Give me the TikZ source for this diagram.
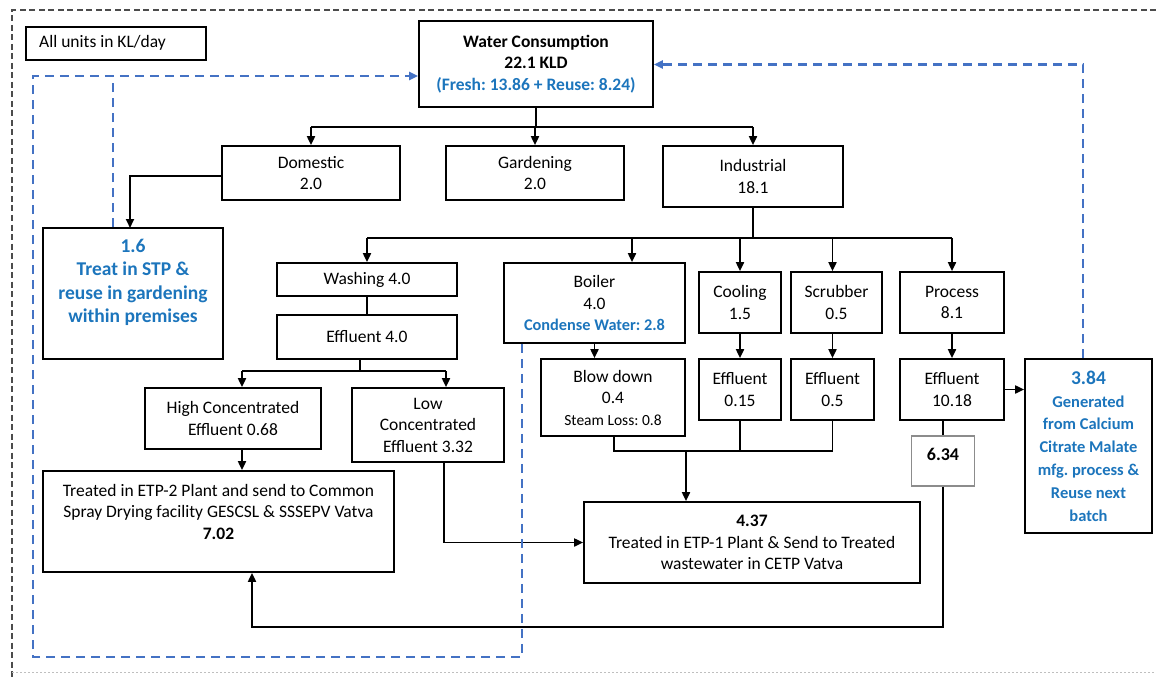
\documentclass[tikz,border=0pt]{standalone}
\usepackage{fontspec}
\setmainfont{Carlito}
\usetikzlibrary{arrows.meta}
\definecolor{txtblue}{RGB}{28,117,188}
\definecolor{dashblue}{RGB}{68,114,196}
\frenchspacing
\begin{document}
\begin{tikzpicture}[x=1pt,y=-1pt,
  box/.style={draw=black, line width=1.7pt, inner sep=0pt, align=center,
    font=\fontsize{17.5}{21.5}\selectfont},
  txt/.style={inner sep=0pt, align=center, font=\fontsize{17.5}{21.5}\selectfont},
  conn/.style={draw=black, line width=1.8pt},
  arr/.style={conn, -{Triangle[length=9pt,width=8pt]}},
  reuse/.style={draw=dashblue, line width=2.5pt, dash pattern=on 9pt off 6pt},
  reusearr/.style={reuse, -{Triangle[length=9pt,width=8pt]}},
  outer/.style={draw=black!70, line width=1.1pt, dash pattern=on 6pt off 3.5pt}
]
\useasboundingbox (0,0) rectangle (1156,679);
\draw[outer] (1156,10) -- (12,10) -- (12,679);
\draw[black!25, line width=0.8pt, dash pattern=on 2pt off 2pt] (12,672) -- (1156,672);

% helper coordinates
\coordinate (b1) at (536,127);
\coordinate (b2) at (753,238);
\coordinate (b3) at (0,371);
\coordinate (yc) at (0,451);
\coordinate (yb) at (0,627);
\coordinate (yr) at (0,64.5);
\coordinate (yl) at (0,76);
\coordinate (ybot) at (0,657);
\coordinate (stpin) at (130,228);
\coordinate (xeff4) at (360,0);
\coordinate (xhc) at (242,0);
\coordinate (xlcin) at (446,0);
\coordinate (xlc) at (444,0);
\coordinate (xboil) at (632,0);
\coordinate (xbd) at (614,0);
\coordinate (xetp1) at (686,0);
\coordinate (xret) at (252,0);
\coordinate (xr) at (1083,0);
\coordinate (xbl) at (522,0);
\coordinate (xl) at (33,0);
\coordinate (xs) at (113,0);

% boxes
\node[box, minimum width=180pt, minimum height=33pt] (units) at (116,43.5) {};
\node[txt, anchor=west] (unitst) at (39,43) {All units in KL/day};

\node[box, minimum width=234pt, minimum height=86pt, font=\fontsize{17.5}{21.5}\selectfont\bfseries] (wc) at (536,64)
  {Water Consumption\\22.1 KLD\\\textcolor{txtblue}{(Fresh: 13.86 + Reuse: 8.24)}};

\node[box, minimum width=178pt, minimum height=54pt] (dom) at (311,173) {Domestic\\2.0};
\node[box, minimum width=178pt, minimum height=54pt] (gard) at (535,173) {Gardening\\2.0};
\node[box, minimum width=180pt, minimum height=61pt] (ind) at (753,176.5) {Industrial\\18.1};

\node[box, minimum width=180pt, minimum height=131pt] (stp) at (133,293.5) {};
\node[txt, text=txtblue, font=\fontsize{19.5}{23.5}\selectfont\bfseries] (stpt) at (133,282.5)
  {1.6\\Treat in STP \&\\reuse in gardening\\within premises};

\node[box, minimum width=180pt, minimum height=33pt] (wash) at (367,279.5) {Washing 4.0};
\node[box, minimum width=180pt, minimum height=44pt] (eff4) at (367,337) {Effluent 4.0};
\node[box, minimum width=176pt, minimum height=61pt] (hc) at (233,418.5) {High Concentrated\\Effluent 0.68};
\node[box, minimum width=152pt, minimum height=74pt] (lc) at (428,425) {Low\\Concentrated\\Effluent 3.32};

\node[box, minimum width=351pt, minimum height=101pt] (etp2) at (218.5,521.5) {};
\node[txt] (etp2t) at (218.5,511.5)
  {Treated in ETP-2 Plant and send to Common\\Spray Drying facility GESCSL \& SSSEPV Vatva\\\textbf{7.02}};

\node[box, minimum width=181pt, minimum height=80pt] (boil) at (594.5,303)
  {Boiler\\4.0\\{\color{txtblue}\bfseries\fontsize{16.3}{21.5}\selectfont Condense Water: 2.8}};
\node[box, minimum width=144pt, minimum height=77pt] (bd) at (613,397.5)
  {Blow down\\0.4\\{\fontsize{15.5}{21.5}\selectfont Steam Loss: 0.8}};

\node[box, minimum width=82pt, minimum height=61pt] (cool) at (740,302.5) {Cooling\\1.5};
\node[box, minimum width=82pt, minimum height=61pt] (e015) at (740,389.5) {Effluent\\0.15};
\node[box, minimum width=91pt, minimum height=61pt] (scrub) at (836.5,302.5) {Scrubber\\0.5};
\node[box, minimum width=83pt, minimum height=61pt] (e05) at (832.5,389.5) {Effluent\\0.5};
\node[box, minimum width=104pt, minimum height=61pt] (proc) at (952,302.5) {Process\\8.1};
\node[box, minimum width=104pt, minimum height=61pt] (e1018) at (952,389.5) {Effluent\\10.18};

\node[box, minimum width=127pt, minimum height=174pt, text=txtblue,
  font=\fontsize{16.5}{22.8}\selectfont\bfseries] (s384) at (1088.5,446)
  {{\fontsize{19.5}{22.8}\selectfont 3.84}\\Generated\\from Calcium\\Citrate Malate\\mfg. process \&\\Reuse next\\batch};

\node[box, draw=black!45, line width=1.3pt, minimum width=63pt, minimum height=50pt] (s634) at (943,461) {};
\node[txt, font=\fontsize{18}{21.5}\selectfont\bfseries] (s634t) at (943,454) {6.34};

\node[box, minimum width=336pt, minimum height=81pt] (etp1) at (752,542.5)
  {\textbf{4.37}\\Treated in ETP-1 Plant \& Send to Treated\\wastewater in CETP Vatva};

% top-level distribution
\draw[conn] (wc.south) -- (b1);
\draw[conn] (dom.north |- b1) -- (ind.north |- b1);
\draw[arr] (dom.north |- b1) -- (dom.north);
\draw[arr] (gard.north |- b1) -- (gard.north);
\draw[arr] (ind.north |- b1) -- (ind.north);
\draw[arr] ([yshift=-3pt]dom.west) -| (stpin);

% industrial distribution
\draw[conn] (ind.south) -- (b2);
\draw[conn] (wash.north |- b2) -- (proc.north |- b2);
\draw[arr] (wash.north |- b2) -- (wash.north);
\draw[arr] (xboil |- b2) -- (xboil |- boil.north);
\draw[arr] (cool.north |- b2) -- (cool.north);
\draw[arr] (e05.north |- b2) -- (e05.north |- scrub.north);
\draw[arr] (proc.north |- b2) -- (proc.north);

% washing branch
\draw[conn] (wash.south) -- (eff4.north);
\draw[conn] (xeff4 |- eff4.south) -- (xeff4 |- b3);
\draw[conn] (xhc |- b3) -- (xlcin |- b3);
\draw[arr] (xhc |- b3) -- (xhc |- hc.north);
\draw[arr] (xlcin |- b3) -- (xlcin |- lc.north);
\draw[arr] (xhc |- hc.south) -- (xhc |- etp2.north);
\draw[arr] (xlc |- lc.south) |- (etp1.west);

% boiler, cooling, scrubber, process
\draw[arr] (boil.south) -- (boil.south |- bd.north);
\draw[arr] (cool.south) -- (e015.north);
\draw[arr] (e05.north |- scrub.south) -- (e05.north);
\draw[arr] (proc.south) -- (e1018.north);
\draw[arr] (e1018.east) -- (e1018.east -| s384.west);

% collector to ETP-1
\draw[conn] (xbd |- bd.south) -- (xbd |- yc) -- (e05.south |- yc) -- (e05.south);
\draw[conn] (e015.south) -- (e015.south |- yc);
\draw[arr] (xetp1 |- yc) -- (xetp1 |- etp1.north);

% process effluent split to ETP-2
\draw[conn] (s634.north |- e1018.south) -- (s634.north);
\draw[arr] (s634.south) -- (s634.south |- yb) -- (xret |- yb) -- (xret |- etp2.south);

% reuse loops
\draw[reusearr] (xr |- s384.north) |- (wc.east |- yr);
\draw[reusearr] (xbl |- boil.south) -- (xbl |- ybot) -| (xl |- yl) -- (wc.west |- yl);
\draw[reuse] (xs |- stp.north) -- (xs |- yl);
\end{tikzpicture}
\end{document}
